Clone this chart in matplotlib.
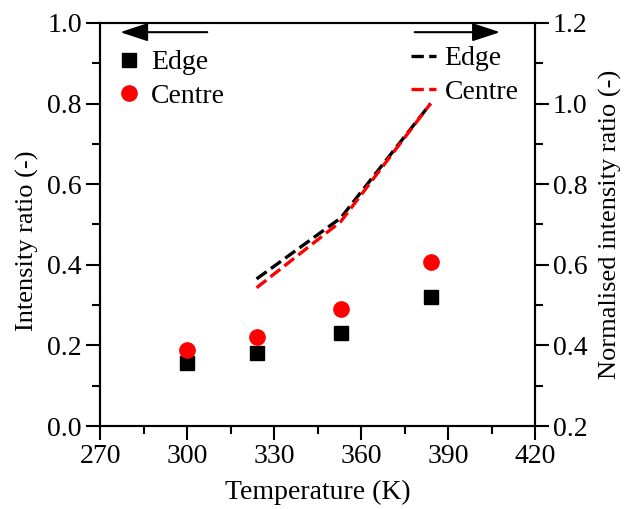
import matplotlib.pyplot as plt
from matplotlib.ticker import MultipleLocator

plt.rcParams['font.family'] = ['Liberation Serif', 'DejaVu Serif']
plt.rcParams['font.size'] = 20

temp = [300, 324, 353, 384]
edge = [0.156, 0.180, 0.230, 0.319]
centre = [0.189, 0.221, 0.291, 0.408]

temp_norm = [324, 353, 384]
edge_norm = [0.565, 0.716, 1.0]
centre_norm = [0.543, 0.707, 1.0]

fig = plt.figure(figsize=(6.25, 5.09), dpi=100)
ax = fig.add_axes([0.16, 0.163, 0.696, 0.792])
ax2 = ax.twinx()

ax.plot(temp, edge, ls='none', marker='s', ms=10.5, color='black', label='Edge')
ax.plot(temp, centre, ls='none', marker='o', ms=11, color='red', label='Centre')

ax2.plot(temp_norm, edge_norm, ls='--', lw=2.4, color='black', label='Edge')
ax2.plot(temp_norm, centre_norm, ls='--', lw=2.4, color='red', label='Centre')

ax.set_xlim(270, 420)
ax.set_ylim(0, 1.0)
ax2.set_ylim(0.2, 1.2)

ax.xaxis.set_major_locator(MultipleLocator(30))
ax.xaxis.set_minor_locator(MultipleLocator(15))
ax.yaxis.set_major_locator(MultipleLocator(0.2))
ax.yaxis.set_minor_locator(MultipleLocator(0.1))
ax2.yaxis.set_major_locator(MultipleLocator(0.2))
ax2.yaxis.set_minor_locator(MultipleLocator(0.1))
ax.yaxis.set_major_formatter(lambda v, p: f"{v:.1f}")
ax2.yaxis.set_major_formatter(lambda v, p: f"{v:.1f}")

for a in (ax, ax2):
    for s in a.spines.values():
        s.set_linewidth(1.5)
    a.tick_params(which='major', direction='out', length=10, width=1.5, pad=3)
    a.tick_params(which='minor', direction='out', length=6, width=1.5)
ax.tick_params(axis='y', which='both', right=False)
ax.tick_params(axis='x', which='both', top=False)

ax.set_xlabel('Temperature (K)', labelpad=8)
ax.set_ylabel('Intensity ratio (-)', fontsize=19)
ax.yaxis.set_label_coords(-0.14, 0.46)
ax2.set_ylabel('Normalised intensity ratio (-)', fontsize=19, labelpad=8)

ax.legend(loc='upper left', bbox_to_anchor=(-0.03, 0.995), frameon=False,
          handletextpad=0.2, borderpad=0.4, labelspacing=0.3, handlelength=1.2)
ax2.legend(loc='upper right', bbox_to_anchor=(1.02, 1.005), frameon=False,
           handletextpad=0.3, borderpad=0.4, labelspacing=0.3, handlelength=0.9)

ax.annotate('', xy=(0.04, 0.977), xytext=(0.253, 0.977), xycoords='axes fraction',
            arrowprops=dict(arrowstyle='-|>,head_length=0.85,head_width=0.28', color='black', lw=1.5))
ax.annotate('', xy=(0.926, 0.977), xytext=(0.717, 0.977), xycoords='axes fraction',
            arrowprops=dict(arrowstyle='-|>,head_length=0.85,head_width=0.28', color='black', lw=1.5))

fig.savefig('out.png', dpi=100)
